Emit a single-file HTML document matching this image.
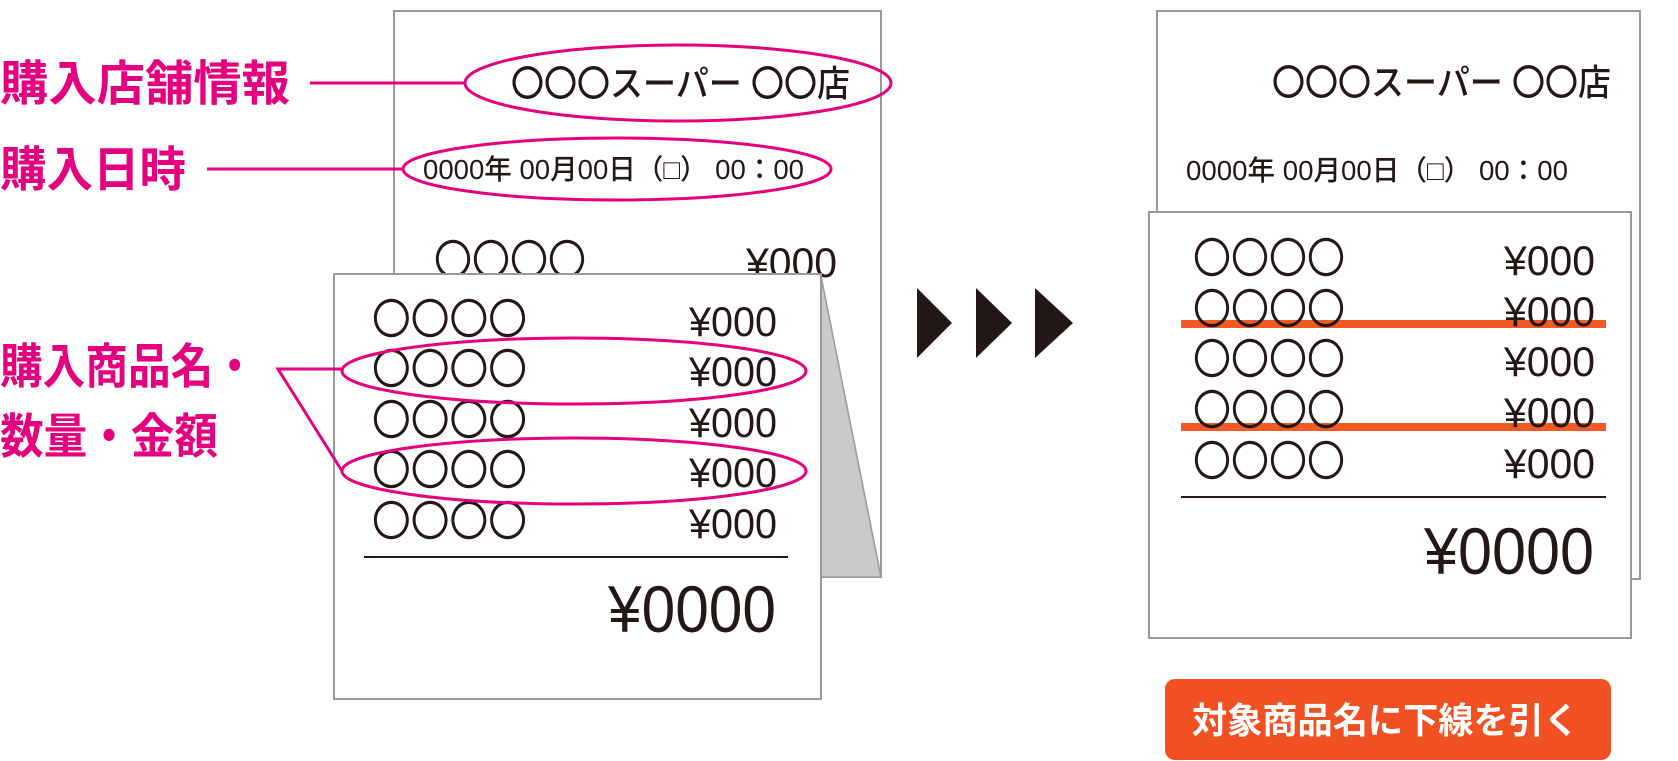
<!DOCTYPE html>
<html><head><meta charset="utf-8"><style>
html,body{margin:0;padding:0;background:#fff;}
svg{display:block;}
text{font-family:"Liberation Sans","Noto Sans CJK JP",sans-serif;}
</style></head><body>
<svg width="1678" height="761" viewBox="0 0 1678 761" xmlns="http://www.w3.org/2000/svg">
<!-- LEFT receipts -->
<rect x="394" y="11" width="487" height="566" fill="#fff" stroke="#999" stroke-width="2"/>
<g fill="#231815" font-family="'Noto Sans CJK JP',sans-serif">
<text x="511" y="96" font-size="36" font-weight="500" textLength="339" lengthAdjust="spacingAndGlyphs">〇〇〇スーパー 〇〇店</text>
<text x="423" y="179" font-size="28" font-weight="500" textLength="381" lengthAdjust="spacingAndGlyphs">0000年 00月00日（□） 00：00</text>
<text x="434" y="275" font-size="42" textLength="152" lengthAdjust="spacingAndGlyphs">〇〇〇〇</text>
<text x="746" y="277" font-size="42" font-weight="500" textLength="91" lengthAdjust="spacingAndGlyphs">¥000</text>
</g>
<polygon points="821,276 881,577 821,577" fill="#c9caca" stroke="#999" stroke-width="1.5"/>
<rect x="334" y="274" width="487" height="425" fill="#fff" stroke="#999" stroke-width="2"/>
<g fill="#231815" font-family="'Noto Sans CJK JP',sans-serif">
<g font-size="42">
<text x="372" y="334" textLength="155" lengthAdjust="spacingAndGlyphs">〇〇〇〇</text>
<text x="372" y="384" textLength="155" lengthAdjust="spacingAndGlyphs">〇〇〇〇</text>
<text x="372" y="435" textLength="155" lengthAdjust="spacingAndGlyphs">〇〇〇〇</text>
<text x="372" y="485" textLength="155" lengthAdjust="spacingAndGlyphs">〇〇〇〇</text>
<text x="372" y="536" textLength="155" lengthAdjust="spacingAndGlyphs">〇〇〇〇</text>
</g>
<g font-size="42" font-weight="500">
<text x="689" y="336" textLength="88" lengthAdjust="spacingAndGlyphs">¥000</text>
<text x="689" y="386" textLength="88" lengthAdjust="spacingAndGlyphs">¥000</text>
<text x="689" y="437" textLength="88" lengthAdjust="spacingAndGlyphs">¥000</text>
<text x="689" y="487" textLength="88" lengthAdjust="spacingAndGlyphs">¥000</text>
<text x="689" y="538" textLength="88" lengthAdjust="spacingAndGlyphs">¥000</text>
</g>
<text x="608" y="632" font-size="66" font-weight="500" textLength="168" lengthAdjust="spacingAndGlyphs">¥0000</text>
</g>
<line x1="364" y1="557" x2="788" y2="557" stroke="#231815" stroke-width="2"/>
<!-- magenta annotations -->
<g fill="none" stroke="#e4007f" stroke-width="3">
<ellipse cx="678" cy="83" rx="213" ry="38"/>
<ellipse cx="617" cy="169" rx="214" ry="31"/>
<ellipse cx="574" cy="371" rx="232" ry="33"/>
<ellipse cx="574" cy="471" rx="232" ry="33"/>
<line x1="310" y1="83" x2="465" y2="83"/>
<line x1="207" y1="169" x2="403" y2="169"/>
<polyline points="342,369 278,369 342,471"/>
</g>
<g fill="#e4007f" font-weight="700" font-size="48" font-family="'Noto Sans CJK JP',sans-serif">
<text x="0" y="100" textLength="290" lengthAdjust="spacingAndGlyphs">購入店舗情報</text>
<text x="0" y="186" textLength="186" lengthAdjust="spacingAndGlyphs">購入日時</text>
<text x="0" y="383" textLength="256" lengthAdjust="spacingAndGlyphs">購入商品名・</text>
<text x="0" y="453" textLength="218" lengthAdjust="spacingAndGlyphs">数量・金額</text>
</g>
<!-- arrows -->
<g fill="#231815">
<polygon points="917,288 952,323 917,358"/>
<polygon points="976,288 1012,323 976,358"/>
<polygon points="1035,288 1073,323 1035,358"/>
</g>
<!-- RIGHT receipts -->
<rect x="1157" y="11" width="483" height="568" fill="#fff" stroke="#999" stroke-width="2"/>
<g fill="#231815" font-family="'Noto Sans CJK JP',sans-serif">
<text x="1272" y="95" font-size="36" font-weight="500" textLength="339" lengthAdjust="spacingAndGlyphs">〇〇〇スーパー 〇〇店</text>
<text x="1186" y="180" font-size="28" font-weight="500" textLength="382" lengthAdjust="spacingAndGlyphs">0000年 00月00日（□） 00：00</text>
</g>
<rect x="1149" y="212" width="482" height="426" fill="#fff" stroke="#999" stroke-width="2"/>
<rect x="1181" y="320" width="425" height="8" fill="#f15a22"/>
<rect x="1181" y="423" width="425" height="8" fill="#f15a22"/>
<g fill="#231815" font-family="'Noto Sans CJK JP',sans-serif">
<g font-size="42">
<text x="1193" y="273" textLength="152" lengthAdjust="spacingAndGlyphs">〇〇〇〇</text>
<text x="1193" y="324" textLength="152" lengthAdjust="spacingAndGlyphs">〇〇〇〇</text>
<text x="1193" y="374" textLength="152" lengthAdjust="spacingAndGlyphs">〇〇〇〇</text>
<text x="1193" y="425" textLength="152" lengthAdjust="spacingAndGlyphs">〇〇〇〇</text>
<text x="1193" y="476" textLength="152" lengthAdjust="spacingAndGlyphs">〇〇〇〇</text>
</g>
<g font-size="42" font-weight="500">
<text x="1504" y="275" textLength="91" lengthAdjust="spacingAndGlyphs">¥000</text>
<text x="1504" y="326" textLength="91" lengthAdjust="spacingAndGlyphs">¥000</text>
<text x="1504" y="376" textLength="91" lengthAdjust="spacingAndGlyphs">¥000</text>
<text x="1504" y="427" textLength="91" lengthAdjust="spacingAndGlyphs">¥000</text>
<text x="1504" y="478" textLength="91" lengthAdjust="spacingAndGlyphs">¥000</text>
</g>
<text x="1424" y="574" font-size="66" font-weight="500" textLength="170" lengthAdjust="spacingAndGlyphs">¥0000</text>
</g>
<line x1="1181" y1="497" x2="1606" y2="497" stroke="#231815" stroke-width="2"/>
<!-- button -->
<rect x="1165" y="679" width="446" height="81" rx="10" fill="#f15022"/>
<text x="1192" y="733" font-size="36" font-weight="700" fill="#fff" font-family="'Noto Sans CJK JP',sans-serif" textLength="387" lengthAdjust="spacingAndGlyphs">対象商品名に下線を引く</text>
</svg>
</body></html>
